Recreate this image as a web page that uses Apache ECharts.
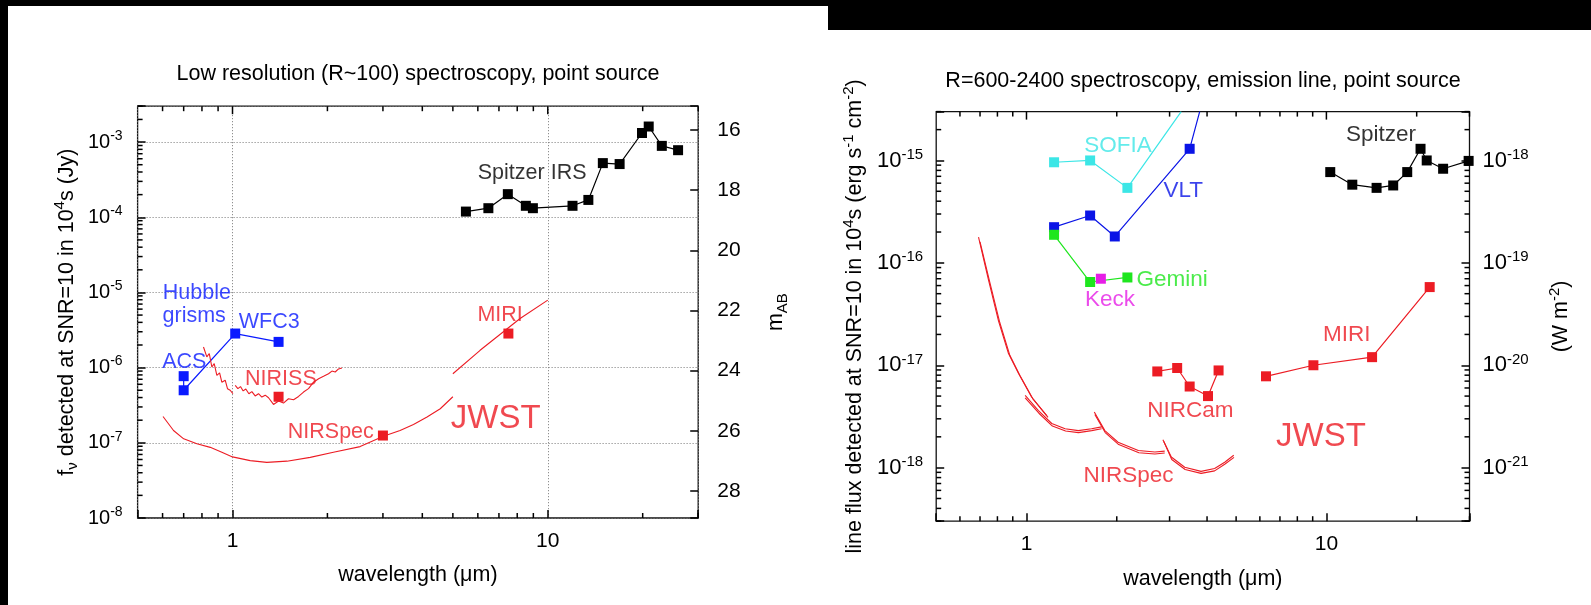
<!DOCTYPE html>
<html lang="en">
<head>
  <meta charset="UTF-8">
  <title>Spectroscopic sensitivity</title>
  <script src="https://cdn.jsdelivr.net/npm/echarts@6.0.0/dist/echarts.min.js"></script>
  <style>
    html, body {
      margin: 0;
      padding: 0;
      width: 100%;
      height: 100%;
      background: #fff;
    }

    #main {
      width: 1591px;
      height: 605px;
    }
  </style>
</head>
<body>
  <div id="main"></div>

  <script>
    // ---- left panel: low resolution (R~100), fnu in Jy ----
    const spitzerIRS = [[5.5, 1.19e-4], [6.48, 1.32e-4], [7.47, 2.03e-4], [8.52, 1.42e-4], [8.97, 1.32e-4],
      [11.98, 1.42e-4], [13.45, 1.70e-4], [14.95, 5.25e-4], [16.9, 5.1e-4], [19.9, 1.32e-3],
      [20.9, 1.61e-3], [23.0, 8.9e-4], [25.9, 7.8e-4]];
    const hubbleGrisms = [[0.70, 7.7e-7], [0.70, 5.0e-7], [1.02, 2.84e-6], [1.40, 2.2e-6]];
    const nirissA = [[0.809, 1.88e-6], [0.829, 1.39e-6], [0.844, 1.54e-6], [0.860, 1.02e-6], [0.875, 1.13e-6],
      [0.892, 7.9e-7], [0.910, 8.5e-7], [0.925, 6.4e-7], [0.948, 6.8e-7], [0.964, 5.25e-7],
      [0.983, 5.0e-7], [1.003, 4.5e-7]];
    const nirissB = [[1.020, 5.8e-7], [1.040, 5.25e-7], [1.060, 5.6e-7], [1.081, 4.9e-7], [1.102, 5.2e-7],
      [1.127, 4.5e-7], [1.152, 4.8e-7], [1.180, 4.2e-7], [1.209, 4.5e-7], [1.239, 4.06e-7],
      [1.270, 4.3e-7], [1.301, 3.98e-7], [1.349, 3.24e-7], [1.400, 3.59e-7], [1.451, 3.38e-7],
      [1.505, 3.86e-7], [1.562, 3.74e-7], [1.620, 4.14e-7], [1.680, 4.73e-7], [1.742, 5.25e-7],
      [1.807, 6.4e-7], [1.875, 7.1e-7], [1.944, 7.66e-7], [2.016, 8.3e-7], [2.067, 9.0e-7],
      [2.117, 8.75e-7], [2.169, 9.6e-7], [2.223, 9.9e-7]];
    const nirissPoint = [[1.40, 4.1e-7]];
    const nirspecLow = [[0.602, 2.24e-7], [0.65, 1.46e-7], [0.70, 1.13e-7], [0.771, 9.7e-8], [0.85, 8.7e-8],
      [0.925, 7.5e-8], [1.0, 6.5e-8], [1.138, 5.8e-8], [1.285, 5.5e-8], [1.488, 5.7e-8],
      [1.764, 6.4e-8], [2.09, 7.5e-8], [2.54, 8.9e-8], [3.01, 1.22e-7], [3.40, 1.46e-7],
      [3.75, 1.75e-7], [4.14, 2.2e-7], [4.56, 2.84e-7], [5.0, 4.1e-7]];
    const nirspecLowPoint = [[3.0, 1.25e-7]];
    const miriLow = [[5.0, 8.3e-7], [6.1, 1.7e-6], [8.17, 4.5e-6], [10.0, 7.9e-6]];
    const miriLowPoint = [[7.5, 2.84e-6]];

    // ---- right panel: R=600-2400, line flux in erg/s/cm2 ----
    const sofia = [[1.236, 9.6e-16], [1.63, 1.0e-15], [2.17, 5.4e-16], [3.28, 3.0e-15]];
    const vlt = [[1.236, 2.23e-16], [1.63, 2.9e-16], [1.97, 1.81e-16], [3.5, 1.3e-15], [3.78, 3.0e-15]];
    const gemini = [[1.236, 1.88e-16], [1.63, 6.5e-17], [2.17, 7.2e-17]];
    const keck = [[1.77, 7.0e-17]];
    const spitzer = [[10.3, 7.7e-16], [12.2, 5.8e-16], [14.7, 5.4e-16], [16.7, 5.7e-16], [18.6, 7.7e-16],
      [20.6, 1.3e-15], [21.6, 1.0e-15], [24.5, 8.3e-16], [29.8, 9.9e-16]];
    const miri = [[6.29, 7.8e-18], [9.05, 1.0e-17], [14.2, 1.2e-17], [22.1, 5.8e-17]];
    const nircam = [[2.73, 8.7e-18], [3.18, 9.4e-18], [3.50, 6.2e-18], [4.03, 5.0e-18], [4.37, 8.9e-18]];
    const nirspecA = [[0.692, 1.78e-16], [0.719, 1.1e-16], [0.748, 6.7e-17], [0.807, 2.7e-17], [0.871, 1.3e-17],
      [0.941, 8.3e-18], [1.04, 4.9e-18], [1.18, 3.1e-18]];
    const nirspecA2 = [[0.70, 1.6e-16], [0.755, 6.4e-17], [0.815, 2.6e-17], [0.88, 1.25e-17], [0.95, 8.0e-18],
      [1.05, 4.7e-18], [1.17, 3.2e-18]];
    const nirspecB = [[0.99, 5.07e-18], [1.096, 3.6e-18], [1.214, 2.7e-18], [1.345, 2.4e-18], [1.489, 2.3e-18],
      [1.648, 2.4e-18], [1.78, 2.5e-18]];
    const nirspecB2 = [[0.99, 4.8e-18], [1.10, 3.4e-18], [1.22, 2.55e-18], [1.35, 2.28e-18], [1.49, 2.2e-18],
      [1.65, 2.3e-18], [1.78, 2.4e-18]];
    const nirspecC = [[1.683, 3.5e-18], [1.825, 2.3e-18], [2.02, 1.77e-18], [2.36, 1.47e-18], [2.68, 1.42e-18],
      [2.89, 1.45e-18]];
    const nirspecC2 = [[1.69, 3.3e-18], [1.83, 2.2e-18], [2.03, 1.68e-18], [2.37, 1.4e-18], [2.68, 1.36e-18],
      [2.89, 1.39e-18]];
    const nirspecD = [[2.85, 1.87e-18], [3.04, 1.27e-18], [3.37, 1.01e-18], [3.82, 9.2e-19], [4.24, 9.8e-19],
      [4.58, 1.13e-18], [4.91, 1.32e-18]];
    const nirspecD2 = [[2.87, 1.8e-18], [3.05, 1.2e-18], [3.38, 9.6e-19], [3.82, 8.8e-19], [4.24, 9.3e-19],
      [4.58, 1.08e-18], [4.92, 1.26e-18]];

    // ---- ticks ----
    const xMajorTicks = [1, 10];
    const xMinorTicks = [0.6, 0.7, 0.8, 0.9, 2, 3, 4, 5, 6, 7, 8, 9, 20, 30];
    const minorSteps = [2, 3, 4, 5, 6, 7, 8, 9];

    const FONT = 'Liberation Sans, Arial, sans-serif';
    const RED = '#ec1c24';
    const BLUE = '#0a1aff';
    const X_MIN = 0.5, X_MAX = 30;
    const YL_MIN = 1e-8, YL_MAX = 3e-3;
    const YR_MIN = 3e-19, YR_MAX = 3e-15;
    const MAJOR_LEN = 8, MINOR_LEN = 5;
    // AB magnitude of the left axis limits
    const AB_TOP = -2.5 * Math.log10(YL_MAX / 3631);
    const AB_BOT = -2.5 * Math.log10(YL_MIN / 3631);

    function logMinor(lo, hi) {
      const out = [];
      for (let e = Math.floor(Math.log10(lo)); e <= Math.ceil(Math.log10(hi)); e++) {
        minorSteps.forEach(s => {
          const v = s * Math.pow(10, e);
          if (v >= lo * 0.999 && v <= hi * 1.001) out.push(v);
        });
      }
      return out;
    }

    // label 10^n, shifted by `shift` decades (erg s-1 cm-2 -> W m-2 is -3)
    function powLabeler(shift) {
      return function (v) {
        if (!(v > 0)) return '';
        const e = Math.log10(v);
        const n = Math.round(e);
        if (Math.abs(e - n) > 1e-6) return '';
        return '{b|10}{s|' + (n + shift) + '}';
      };
    }

    function xLabel(v) {
      if (!(v > 0)) return '';
      const e = Math.log10(v);
      const n = Math.round(e);
      if (Math.abs(e - n) > 1e-6) return '';
      return String(Math.round(Math.pow(10, n)));
    }

    function powRich(big, small) {
      return {
        b: { fontSize: big, lineHeight: 26, verticalAlign: 'middle', color: '#000', fontFamily: FONT },
        s: { fontSize: small, lineHeight: 16, verticalAlign: 'top', color: '#000', fontFamily: FONT }
      };
    }

    const nameRich = {
      t: { fontSize: 21.5, lineHeight: 28, verticalAlign: 'middle', color: '#000', fontFamily: FONT },
      u: { fontSize: 15, lineHeight: 14, verticalAlign: 'bottom', color: '#000', fontFamily: FONT },
      p: { fontSize: 15, lineHeight: 16, verticalAlign: 'top', color: '#000', fontFamily: FONT }
    };

    // kind: 0 = x bottom+top, 1 = y left, 2 = y right, 3 = y both, 4 = x top only
    function tickItem(params, api) {
      const cs = params.coordSys;
      const p = api.coord([api.value(0), api.value(1)]);
      const kind = api.value(2);
      const len = api.value(3);
      const lines = [];
      const bottom = cs.y + cs.height, right = cs.x + cs.width;
      if (kind === 0 || kind === 4) {
        if (kind === 0) lines.push([p[0], bottom, p[0], bottom - len]);
        lines.push([p[0], cs.y, p[0], cs.y + len]);
      } else {
        if (kind === 1 || kind === 3) lines.push([cs.x, p[1], cs.x + len, p[1]]);
        if (kind === 2 || kind === 3) lines.push([right, p[1], right - len, p[1]]);
      }
      return {
        type: 'group',
        children: lines.map(l => ({
          type: 'line',
          shape: { x1: l[0], y1: l[1], x2: l[2], y2: l[3] },
          style: { stroke: '#000', lineWidth: 1.5 }
        }))
      };
    }

    function tickSeries(grid, yMin, yTicks, yKind) {
      const data = [];
      xMinorTicks.forEach(x => data.push([x, yMin, 0, MINOR_LEN]));
      xMajorTicks.forEach(x => data.push([x, yMin, 4, MAJOR_LEN]));
      yTicks.forEach(y => data.push([X_MIN, y, yKind, MINOR_LEN]));
      return {
        type: 'custom', xAxisIndex: grid, yAxisIndex: grid === 0 ? 0 : 2,
        dimensions: ['x', 'y', 'kind', 'len'],
        encode: { x: 0, y: 1 },
        renderItem: tickItem, data: data, silent: true, z: 5, clip: false
      };
    }

    function line(grid, data, color, opts) {
      return Object.assign({
        type: 'line',
        xAxisIndex: grid,
        yAxisIndex: grid === 0 ? 0 : 2,
        data: data,
        symbol: 'rect',
        symbolSize: 10,
        showSymbol: true,
        lineStyle: { color: color, width: 1.2 },
        itemStyle: { color: color },
        animation: false,
        z: 3
      }, opts || {});
    }

    function curve(grid, data, width) {
      return line(grid, data, RED, { symbol: 'none', lineStyle: { color: RED, width: width || 1.1 } });
    }

    function points(grid, data, color) {
      return line(grid, data, color, { lineStyle: { width: 0, opacity: 0 } });
    }

    function noteSeries(grid, notes) {
      return {
        type: 'scatter',
        xAxisIndex: grid,
        yAxisIndex: grid === 0 ? 0 : 2,
        symbolSize: 0,
        silent: true,
        z: 6,
        data: notes.map(n => ({
          name: n.text,
          value: [n.x, n.y],
          label: { color: n.color, fontSize: n.size || 21.5 }
        })),
        label: { show: true, position: 'inside', formatter: '{b}', fontFamily: FONT }
      };
    }

    // hide the symbol on the point where a line leaves the top of the frame
    function openEnd(data) {
      return data.map((d, i) => i === data.length - 1 ? { value: d, symbol: 'none' } : d);
    }

    const chart = echarts.init(document.getElementById('main'));

    const axisTickStyle = { show: true, inside: true, length: MAJOR_LEN, lineStyle: { color: '#000', width: 1.5 } };
    const dotted = { show: true, lineStyle: { color: '#777', type: [1, 2], width: 1 } };

    const option = {
      backgroundColor: '#fff',
      animation: false,
      textStyle: { fontFamily: FONT },
      graphic: [
        { type: 'rect', shape: { x: 0, y: 0, width: 8, height: 605 }, style: { fill: '#000' } },
        { type: 'rect', shape: { x: 0, y: 0, width: 828, height: 6 }, style: { fill: '#000' } },
        { type: 'rect', shape: { x: 828, y: 0, width: 763, height: 30 }, style: { fill: '#000' } }
      ],
      title: [
        {
          text: 'Low resolution (R~100) spectroscopy, point source',
          left: 418, top: 63, textAlign: 'center', padding: 0,
          textStyle: { fontSize: 21.5, fontWeight: 'normal', color: '#000', fontFamily: FONT }
        },
        {
          text: 'R=600-2400 spectroscopy, emission line, point source',
          left: 1203, top: 70, textAlign: 'center', padding: 0,
          textStyle: { fontSize: 21.5, fontWeight: 'normal', color: '#000', fontFamily: FONT }
        }
      ],
      grid: [
        {
          left: 137.6, top: 106.2, width: 560.6, height: 411.8, show: true, outerBoundsMode: 'none',
          containLabel: false, borderColor: '#111', borderWidth: 1.3, backgroundColor: 'transparent'
        },
        {
          left: 936.2, top: 111.6, width: 533.3, height: 409.6, show: true, outerBoundsMode: 'none',
          containLabel: false, borderColor: '#111', borderWidth: 1.3, backgroundColor: 'transparent'
        }
      ],
      xAxis: [0, 1].map(g => ({
        type: 'log', logBase: 10, gridIndex: g, min: X_MIN, max: X_MAX,
        axisLine: { show: false },
        axisTick: axisTickStyle,
        axisLabel: { formatter: xLabel, fontSize: 21, color: '#000', margin: 13, fontFamily: FONT },
        splitLine: g === 0 ? dotted : { show: false },
        name: 'wavelength (μm)', nameLocation: 'middle', nameGap: g === 0 ? 46 : 47,
        nameTextStyle: { fontSize: 21.5, color: '#000', fontFamily: FONT }
      })),
      yAxis: [
        {
          type: 'log', logBase: 10, gridIndex: 0, position: 'left', min: YL_MIN, max: YL_MAX,
          axisLine: { show: false }, axisTick: axisTickStyle,
          axisLabel: { formatter: powLabeler(0), rich: powRich(20, 14), margin: 15 },
          splitLine: dotted,
          name: '{t|f}{u|ν}{t| detected at SNR=10 in 10}{p|4}{t|s (Jy)}',
          nameLocation: 'middle', nameRotate: 90, nameGap: 57,
          nameTextStyle: { rich: nameRich }
        },
        {
          type: 'value', gridIndex: 0, position: 'right', inverse: true, min: AB_TOP, max: AB_BOT,
          splitNumber: 7, minInterval: 2, maxInterval: 2,
          axisLine: { show: false }, axisTick: axisTickStyle,
          axisLabel: {
            fontSize: 21, color: '#000', margin: 19, fontFamily: FONT,
            formatter: v => (Math.abs(v - Math.round(v)) < 1e-6 && Math.round(v) % 2 === 0) ? String(Math.round(v)) : ''
          },
          splitLine: { show: false },
          name: '{t|m}{u|AB}', nameLocation: 'middle', nameRotate: 90, nameGap: 64,
          nameTextStyle: { rich: nameRich }
        },
        {
          type: 'log', logBase: 10, gridIndex: 1, position: 'left', min: YR_MIN, max: YR_MAX,
          axisLine: { show: false }, axisTick: axisTickStyle,
          axisLabel: { formatter: powLabeler(0), rich: powRich(22, 15), margin: 13 },
          splitLine: { show: false },
          name: '{t|line flux detected at SNR=10 in 10}{p|4}{t|s (erg s}{p|-1}{t| cm}{p|-2}{t|)}',
          nameLocation: 'middle', nameRotate: 90, nameGap: 67,
          nameTextStyle: { rich: nameRich }
        },
        {
          // same scale as the left axis, labelled in W m-2
          type: 'log', logBase: 10, gridIndex: 1, position: 'right', min: YR_MIN, max: YR_MAX,
          axisLine: { show: false }, axisTick: axisTickStyle,
          axisLabel: { formatter: powLabeler(-3), rich: powRich(22, 15), margin: 13 },
          splitLine: { show: false },
          name: '{t|(W m}{p|-2}{t|)}',
          nameLocation: 'middle', nameRotate: 90, nameGap: 78,
          nameTextStyle: { rich: nameRich }
        }
      ],
      series: [
        tickSeries(0, YL_MIN, logMinor(YL_MIN, YL_MAX), 1),
        tickSeries(1, YR_MIN, logMinor(YR_MIN, YR_MAX), 3),

        // left panel
        line(0, spitzerIRS, '#000'),
        line(0, hubbleGrisms, BLUE),
        curve(0, nirissA),
        curve(0, nirissB),
        points(0, nirissPoint, RED),
        curve(0, nirspecLow),
        points(0, nirspecLowPoint, RED),
        curve(0, miriLow),
        points(0, miriLowPoint, RED),

        // right panel
        line(1, openEnd(sofia), '#3ce6e6'),
        line(1, openEnd(vlt), '#0a14e6'),
        line(1, gemini, '#1ee61e'),
        points(1, keck, '#e61ee6'),
        line(1, spitzer, '#000'),
        line(1, miri, RED),
        line(1, nircam, RED),
        curve(1, nirspecA), curve(1, nirspecA2),
        curve(1, nirspecB), curve(1, nirspecB2),
        curve(1, nirspecC), curve(1, nirspecC2),
        curve(1, nirspecD), curve(1, nirspecD2),

        noteSeries(0, [
          { text: 'Spitzer IRS', x: 8.92, y: 3.9e-4, color: '#000' },
          { text: 'Hubble', x: 0.771, y: 9.7e-6, color: BLUE },
          { text: 'grisms', x: 0.756, y: 4.9e-6, color: BLUE },
          { text: 'WFC3', x: 1.307, y: 3.98e-6, color: BLUE },
          { text: 'ACS', x: 0.703, y: 1.19e-6, color: BLUE },
          { text: 'NIRISS', x: 1.424, y: 7.0e-7, color: RED },
          { text: 'NIRSpec', x: 2.05, y: 1.38e-7, color: RED },
          { text: 'MIRI', x: 7.06, y: 4.98e-6, color: RED },
          { text: 'JWST', x: 6.84, y: 2.05e-7, color: RED, size: 33 }
        ]),
        noteSeries(1, [
          { text: 'SOFIA', x: 2.02, y: 1.4e-15, color: '#3ce6e6', size: 22.5 },
          { text: 'VLT', x: 3.33, y: 5.1e-16, color: '#0a14e6', size: 22.5 },
          { text: 'Gemini', x: 3.06, y: 6.9e-17, color: '#1ee61e', size: 22.5 },
          { text: 'Keck', x: 1.90, y: 4.4e-17, color: '#e61ee6', size: 22.5 },
          { text: 'Spitzer', x: 15.2, y: 1.8e-15, color: '#000', size: 22.5 },
          { text: 'MIRI', x: 11.7, y: 2.0e-17, color: RED, size: 22.5 },
          { text: 'NIRCam', x: 3.52, y: 3.6e-18, color: RED, size: 22.5 },
          { text: 'NIRSpec', x: 2.19, y: 8.4e-19, color: RED, size: 22.5 },
          { text: 'JWST', x: 9.59, y: 1.99e-18, color: RED, size: 33 }
        ])
      ]
    };

    chart.setOption(option);
  </script>
</body>
</html>
